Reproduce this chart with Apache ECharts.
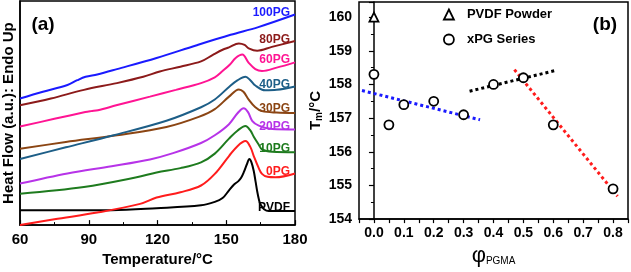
<!DOCTYPE html>
<html>
<head>
<meta charset="utf-8">
<script src="https://cdn.jsdelivr.net/npm/echarts@6/dist/echarts.min.js"></script>
<style>
  html, body { margin: 0; padding: 0; background: #fff; }
  #chart { width: 631px; height: 272px; }
</style>
</head>
<body>
<div id="chart"></div>
<script>
// (a) DSC heating curves: [temperature (°C), heat flow (a.u., offset)]
const pvdf = [[60,15.5],[100,15.5],[119.6,17.5],[139,20.5],[145,24],[148.4,28],[151.2,36],[153.4,42],[155.3,45.5],[156.5,49],[157.7,55],[159,63],[160.1,68.5],[161,65],[162,56],[162.8,45],[163.5,35],[164.2,27],[164.9,21.5],[166.5,16.5],[168.5,14.5],[180,14.5]];
const pg0 = [[60,0],[75,6],[93.7,13],[112.4,22],[119.6,28.5],[130,34],[139,41],[145,53],[151.2,71.5],[155,82],[158.4,87],[160.5,81],[162,71.5],[164,60],[165.6,53],[168,50],[171.4,49.5],[180,53.5]];
const pg10 = [[60,32.5],[87.9,39.5],[110.9,49.5],[119.6,54.5],[130,59],[139,65],[145,74],[151.2,89.5],[155,98],[158.4,102.5],[160.5,98],[162,91.5],[164,84],[165.6,78.5],[170,76],[180,75.5]];
const pg20 = [[60,43],[80.7,53.5],[100,61],[116.7,68],[126.8,74.5],[139,85],[145,93],[151.2,104.5],[155,116],[157.6,121],[159.5,117],[161.3,108],[164.2,103],[170,99.5],[180,99]];
const pg30 = [[60,79],[80,86],[102.3,93],[123.9,101.5],[138,112],[145,120],[151.2,133],[155.5,140.5],[157.5,138],[159.8,130],[162.7,122],[165.6,118],[172,116.5],[180,116]];
const pg40 = [[60,68.5],[80,80.5],[100.9,93],[123.9,108],[139,122],[145,130],[151.2,143],[155,150],[158.4,153.5],[160.5,150],[162.7,144.5],[167,139.5],[172,140],[180,143.5]];
const pg60 = [[60,102],[75,110],[88.5,117],[91,118],[94,119],[102,124],[116.7,133],[128,140],[139,147],[145,153],[148.4,159.5],[151.5,166],[154.1,173],[157,176.5],[159.8,168],[162.7,161.5],[165.6,159.5],[172,163],[180,168.5]];
const pg80 = [[60,124],[73.5,131],[87.9,140],[102.3,147],[113.8,153.5],[121,159],[130,164],[139,169.5],[144,176],[148.4,181.5],[151.2,184],[155.5,188],[158,186.5],[159.8,183],[163.5,180.5],[169.9,184.5],[180,190.5]];
const pg100 = [[60,131],[70,138],[80.7,145],[85,150],[88.6,153.5],[93.7,156],[102.3,161.5],[119.6,173],[136.8,186],[151.9,197],[164,205],[180,218]];

const curves = [pvdf, pg0, pg10, pg20, pg30, pg40, pg60, pg80, pg100];
const curveNames = ['PVDF', '0PG', '10PG', '20PG', '30PG', '40PG', '60PG', '80PG', '100PG'];
const curveColors = ['#000000', '#ff1c1c', '#1e7b1e', '#b733e8', '#8b4513', '#1d5e87', '#ff1493', '#8c1a1a', '#1a1aff'];
const labelY = [208, 172, 149, 127, 109, 85, 60, 40, 13];

// (b) melting temperature vs PGMA fraction
const powderPhi = [0];
const powderTm = [160];
const xpgPhi = [0, 0.05, 0.1, 0.2, 0.3, 0.4, 0.5, 0.6, 0.8];
const xpgTm = [158.3, 156.8, 157.4, 157.5, 157.1, 158.0, 158.2, 156.8, 154.9];
const fitBlue = [[-0.04, 157.82], [0.355, 156.95]];
const fitBlack = [[0.32, 157.8], [0.61, 158.42]];
const fitRed = [[0.47, 158.44], [0.815, 154.68]];

const FONT = '"Liberation Sans", Arial, sans-serif';

var chart = echarts.init(document.getElementById('chart'));

var seriesList = curves.map(function (c, i) {
  return {
    name: curveNames[i],
    type: 'line',
    xAxisIndex: 0,
    yAxisIndex: 0,
    data: c,
    smooth: 0.35,
    showSymbol: false,
    lineStyle: { color: curveColors[i], width: 2 },
    z: 2
  };
});

function fitLine(data, color) {
  return {
    type: 'line',
    xAxisIndex: 1,
    yAxisIndex: 1,
    data: data,
    showSymbol: false,
    lineStyle: { color: color, width: 3, type: [3, 3], cap: 'butt' },
    z: 2
  };
}
seriesList.push(fitLine(fitBlue, '#1a1aff'));
seriesList.push(fitLine(fitBlack, '#000'));
seriesList.push(fitLine(fitRed, '#ff1c1c'));

var openMark = { color: '#fff', borderColor: '#000', borderWidth: 1.8, opacity: 1 };
seriesList.push({
  name: 'PVDF Powder',
  type: 'scatter',
  xAxisIndex: 1,
  yAxisIndex: 1,
  data: powderPhi.map(function (p, i) { return [p, powderTm[i]]; }),
  symbol: 'triangle',
  symbolSize: 9,
  itemStyle: openMark,
  z: 3
});
seriesList.push({
  name: 'xPG Series',
  type: 'scatter',
  xAxisIndex: 1,
  yAxisIndex: 1,
  data: xpgPhi.map(function (p, i) { return [p, xpgTm[i]]; }),
  symbol: 'circle',
  symbolSize: 9,
  itemStyle: openMark,
  z: 3
});

var labelTexts = curveNames.map(function (n, i) {
  return {
    type: 'text',
    x: 290,
    y: labelY[i],
    z: 10,
    style: {
      text: n,
      fill: curveColors[i],
      font: 'bold 12px ' + FONT,
      align: 'right',
      verticalAlign: 'middle'
    }
  };
});

var option = {
  animation: false,
  backgroundColor: '#fff',
  textStyle: { fontFamily: FONT },
  grid: [
    { left: 17, top: 1, width: 278, height: 232, show: true, borderColor: '#000', borderWidth: 1.5 },
    { left: 359, top: 2, right: 3, height: 227, show: true, borderColor: '#000', borderWidth: 1.5 }
  ],
  legend: {
    orient: 'vertical',
    left: 438,
    top: 3,
    itemWidth: 10,
    itemHeight: 10,
    itemGap: 12,
    data: [
      { name: 'PVDF Powder', icon: 'triangle' },
      { name: 'xPG Series', icon: 'circle' }
    ],
    itemStyle: { color: '#fff', borderColor: '#000', borderWidth: 1.8, opacity: 1 },
    textStyle: { fontFamily: FONT, fontWeight: 'bold', fontSize: 13, color: '#000', padding: [0, 0, 0, 8] }
  },
  xAxis: [
    {
      type: 'value', gridIndex: 0, min: 60, max: 180, interval: 30,
      axisLine: { lineStyle: { color: '#000', width: 1.5 } },
      axisTick: { inside: true, length: 5, lineStyle: { color: '#000', width: 1.2 } },
      minorTick: { show: true, splitNumber: 2, length: 3, lineStyle: { color: '#000', width: 1 } },
      splitLine: { show: false },
      axisLabel: { color: '#000', fontWeight: 'bold', fontSize: 15, margin: 7, fontFamily: FONT },
      name: 'Temperature/°C', nameLocation: 'middle', nameGap: 24,
      nameTextStyle: { color: '#000', fontWeight: 'bold', fontSize: 15, fontFamily: FONT }
    },
    {
      type: 'value', gridIndex: 1, min: -0.05, max: 0.85, interval: 0.05,
      axisLine: { lineStyle: { color: '#000', width: 1.5 } },
      axisTick: { length: 4, lineStyle: { color: '#000', width: 1.2 } },
      splitLine: { show: false },
      axisLabel: {
        color: '#000', fontWeight: 'bold', fontSize: 14, margin: 7, fontFamily: FONT,
        formatter: function (v) {
          var t = v * 10;
          return (Math.abs(t - Math.round(t)) < 1e-6 && v > -0.01 && v < 0.81) ? v.toFixed(1) : '';
        }
      },
      name: '{phi|φ}{sub|PGMA}', nameLocation: 'middle', nameGap: 22,
      nameTextStyle: {
        color: '#000', fontFamily: FONT,
        rich: {
          phi: { fontSize: 22, color: '#000', fontFamily: FONT },
          sub: { fontSize: 10, color: '#000', fontFamily: FONT, padding: [10, 0, 0, 0] }
        }
      }
    }
  ],
  yAxis: [
    {
      type: 'value', gridIndex: 0, min: 0, max: 232,
      axisLine: { show: true, lineStyle: { color: '#000', width: 1.5 } },
      axisTick: { show: false },
      axisLabel: { show: false },
      splitLine: { show: false },
      name: 'Heat Flow (a.u.): Endo Up', nameLocation: 'middle', nameGap: 4,
      nameTextStyle: { color: '#000', fontWeight: 'bold', fontSize: 15, fontFamily: FONT }
    },
    {
      type: 'value', gridIndex: 1, min: 154, max: 160.45, interval: 1,
      axisLine: { show: true, lineStyle: { color: '#000', width: 1.5 } },
      axisTick: { length: 5, lineStyle: { color: '#000', width: 1.2 } },
      minorTick: { show: true, splitNumber: 2, length: 3, lineStyle: { color: '#000', width: 1 } },
      splitLine: { show: false },
      axisLabel: {
        color: '#000', fontWeight: 'bold', fontSize: 14, margin: 7, fontFamily: FONT,
        formatter: function (v) { return Number.isInteger(v) ? String(v) : ''; }
      },
      name: 'T{sub|m}/°C', nameLocation: 'middle', nameGap: 18,
      nameTextStyle: {
        color: '#000', fontWeight: 'bold', fontSize: 15, fontFamily: FONT,
        rich: { sub: { fontSize: 10, fontWeight: 'bold', color: '#000', fontFamily: FONT, padding: [8, 0, 0, 0] } }
      }
    }
  ],
  graphic: labelTexts.concat([
    { type: 'text', x: 43, y: 25, style: { text: '(a)', fill: '#000', font: 'bold 19px ' + FONT, align: 'center', verticalAlign: 'middle' } },
    { type: 'text', x: 605, y: 25, style: { text: '(b)', fill: '#000', font: 'bold 19px ' + FONT, align: 'center', verticalAlign: 'middle' } }
  ]),
  series: seriesList
};

chart.setOption(option);
</script>
</body>
</html>
